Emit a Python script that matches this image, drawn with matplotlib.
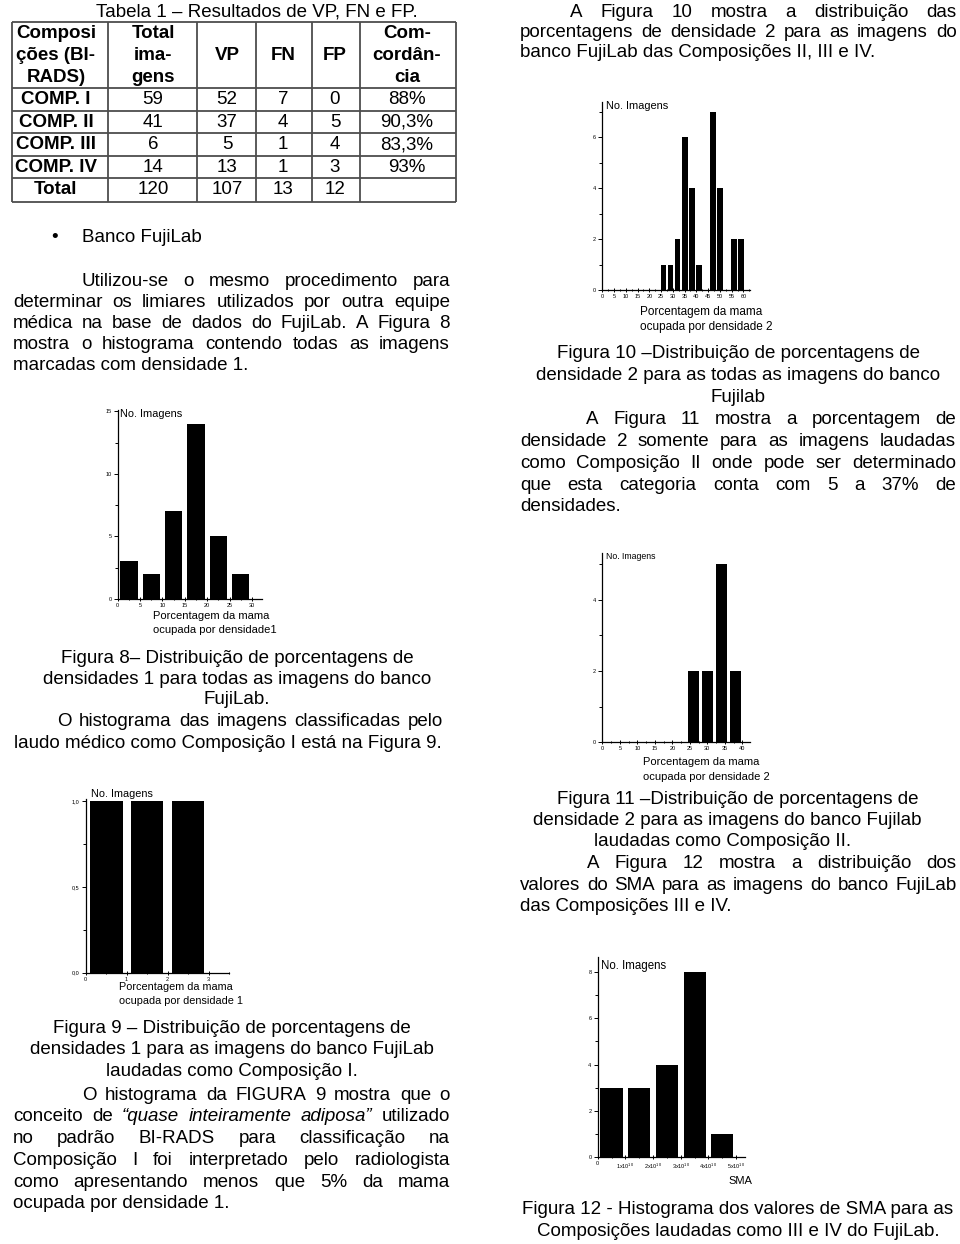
import matplotlib.pyplot as plt
from matplotlib.ticker import MultipleLocator, FixedLocator, FixedFormatter
import numpy as np

plt.rcParams['font.family'] = ['Liberation Sans', 'DejaVu Sans']
plt.rcParams['mathtext.fontset'] = 'custom'
plt.rcParams['mathtext.rm'] = 'Liberation Sans'
plt.rcParams['mathtext.default'] = 'regular'

# Tabela 1 - resultados por composicao
comp_labels = ['COMP. I', 'COMP. II', 'COMP. III', 'COMP. IV', 'Total']
total_imgs = [59, 41, 6, 14, 120]
vp = [52, 37, 5, 13, 107]
fn = [7, 4, 1, 1, 13]
fp = [0, 5, 4, 3, 12]
concordancia = ['88%', '90,3%', '83,3%', '93%', '']
header = [['Composi', 'ções (BI-', 'RADS)'], ['Total', 'ima-', 'gens'],
          ['', 'VP', ''], ['', 'FN', ''], ['', 'FP', ''],
          ['Com-', 'cordân-', 'cia']]

# Figura 8 - densidade 1, todas as imagens
fig8_edges = [0, 5, 10, 15, 20, 25, 30]
fig8_counts = [3, 2, 7, 14, 5, 2]

# Figura 9 - densidade 1, Composicao I
fig9_edges = [0, 1, 2, 3]
fig9_counts = [1, 1, 1]
fig9_yticks = [0, 0.5, 1.0]
fig9_ylabels = ['0,0', '0,5', '1,0']

# Figura 10 - densidade 2, Composicoes II, III e IV
fig10_edges = [24.5, 27.5, 30.5, 33.5, 36.5, 39.5, 42.5, 45.5, 48.5, 51.5, 54.5, 57.5, 60.5]
fig10_counts = [1, 1, 2, 6, 4, 1, 0, 7, 4, 0, 2, 2]

# Figura 11 - densidade 2, Composicao II
fig11_edges = [24, 28, 32, 36, 40]
fig11_counts = [2, 2, 5, 2]

# Figura 12 - SMA (em unidades de 1x10^10)
fig12_edges = [0, 1, 2, 3, 4, 5]
fig12_counts = [3, 3, 4, 8, 1]
sma_ticks = [0, 1, 2, 3, 4, 5]
sma_labels = ['0', '1x10$^{10}$', '2x10$^{10}$', '3x10$^{10}$', '4x10$^{10}$', '5x10$^{10}$']

W, H = 960, 1244
BODY = 13.5

fig = plt.figure(figsize=(W / 100, H / 100), dpi=100)
page = fig.add_axes([0, 0, 1, 1])
page.set_xlim(0, W)
page.set_ylim(H, 0)
page.axis('off')
renderer = fig.canvas.get_renderer()


def put(x, y, s, ha='left', size=BODY, **kw):
    return page.text(x, y, s, ha=ha, va='center', fontsize=size, **kw)


def justify(words, x0, x1, y, italic=()):
    """Spread the words of one line between x0 and x1."""
    texts = [put(0, y, w, style='italic' if i in italic else 'normal')
             for i, w in enumerate(words)]
    widths = [t.get_window_extent(renderer).width for t in texts]
    gap = (x1 - x0 - sum(widths)) / max(len(words) - 1, 1)
    x = x0
    for t, w in zip(texts, widths):
        t.set_x(x)
        x += w + gap


def paragraph(lines, x_first, x_left, x_right, y0, dy):
    """Justified paragraph with first-line indent, last line left aligned."""
    for i, line in enumerate(lines):
        italic = ()
        if isinstance(line, tuple):
            line, italic = line
        x0 = x_first if i == 0 else x_left
        y = y0 + i * dy
        if i < len(lines) - 1:
            justify(line.split(), x0, x_right, y, italic)
        else:
            put(x0, y, line)


def hist_axes(box, edges, counts, frac, xmax, ymax, xmaj, xmin, ymaj, ymin):
    """Histogram axes placed by its pixel box (left, top, right, bottom)."""
    l, t, r, b = box
    ax = fig.add_axes([l / W, 1 - b / H, (r - l) / W, (b - t) / H])
    edges = np.asarray(edges, dtype=float)
    centers = (edges[:-1] + edges[1:]) / 2
    binw = edges[1] - edges[0]
    ax.bar(centers, counts, width=frac * binw, color='black', linewidth=0)
    ax.set_xlim(0, xmax)
    ax.set_ylim(0, ymax)
    for s in ('top', 'right'):
        ax.spines[s].set_visible(False)
    for s in ('left', 'bottom'):
        ax.spines[s].set_linewidth(0.9)
    ax.xaxis.set_major_locator(MultipleLocator(xmaj))
    ax.xaxis.set_minor_locator(MultipleLocator(xmin))
    ax.yaxis.set_major_locator(MultipleLocator(ymaj))
    ax.yaxis.set_minor_locator(MultipleLocator(ymin))
    ax.tick_params(axis='x', which='both', direction='inout', labelsize=4, pad=1.5)
    ax.tick_params(axis='y', which='both', direction='out', labelsize=4, pad=1.5)
    ax.tick_params(which='major', length=3, width=0.7)
    ax.tick_params(which='minor', length=2, width=0.7)
    ax.patch.set_alpha(0)
    return ax


# ---------------- Tabela 1 ----------------
put(257, 12, 'Tabela 1 – Resultados de VP, FN e FP.', ha='center')
col_x = [11.7, 108.3, 196.7, 255.7, 311.7, 360, 455.7]
row_y = [21.7, 88.3, 111, 133.3, 155.7, 178.3, 201.7]
page.hlines(row_y, col_x[0], col_x[-1], color='#4d4d4d', lw=1.3)
page.vlines(col_x, row_y[0], row_y[-1], color='#4d4d4d', lw=1.3)
text_x = [56, 153, 227, 283, 335, 407]
for cx, lines in zip(text_x, header):
    for hy, s in zip([33, 56, 78], lines):
        put(cx, hy, s, ha='center', weight='bold')
for i in range(len(comp_labels)):
    ry = (row_y[i + 1] + row_y[i + 2]) / 2
    cells = [comp_labels[i], total_imgs[i], vp[i], fn[i], fp[i], concordancia[i]]
    for j, (cx, val) in enumerate(zip(text_x, cells)):
        put(cx, ry, str(val), ha='center', weight='bold' if j == 0 else 'normal')

# ---------------- coluna esquerda ----------------
put(51.7, 238, '•')
put(81.7, 238, 'Banco FujiLab')
paragraph(['Utilizou-se o mesmo procedimento para',
           'determinar os limiares utilizados por outra equipe',
           'médica na base de dados do FujiLab. A Figura 8',
           'mostra o histograma contendo todas as imagens',
           'marcadas com densidade 1.'], 81.7, 13, 450, 281.7, 21)

hist_axes((117.7, 410, 261.7, 599), fig8_edges, fig8_counts, 0.78,
          32.2, 15.1, 5, 2.5, 5, 2.5)
put(120, 414, 'No. Imagens', size=7.9)
put(153.3, 615.7, 'Porcentagem da mama', size=8)
put(153.3, 630, 'ocupada por densidade1', size=8)

for y, s in zip([658.3, 679.3, 700],
                ['Figura 8– Distribuição de porcentagens de',
                 'densidades 1 para todas as imagens do banco',
                 'FujiLab.']):
    put(237, y, s, ha='center')
paragraph(['O histograma das imagens classificadas pelo',
           'laudo médico como Composição I está na Figura 9.'],
          57, 14, 443, 721.7, 21.6)

ax9 = hist_axes((85.7, 799.3, 229, 972.7), fig9_edges, fig9_counts, 0.8,
                3.5, 1.01, 1, 0.5, 0.5, 0.25)
ax9.yaxis.set_major_locator(FixedLocator(fig9_yticks))
ax9.yaxis.set_major_formatter(FixedFormatter(fig9_ylabels))
put(90.7, 794.3, 'No. Imagens', size=7.8)
put(119.3, 986.7, 'Porcentagem da mama', size=7.8)
put(119.3, 1000.7, 'ocupada por densidade 1', size=7.8)

for y, s in zip([1028.3, 1050, 1071.7],
                ['Figura 9 – Distribuição de porcentagens de',
                 'densidades 1 para as imagens do banco FujiLab',
                 'laudadas como Composição I.']):
    put(232, y, s, ha='center')
paragraph(['O histograma da FIGURA 9 mostra que o',
           ('conceito de “quase inteiramente adiposa”  utilizado', (2, 3, 4)),
           'no padrão BI-RADS para classificação na',
           'Composição I foi interpretado pelo radiologista',
           'como apresentando menos que 5% da mama',
           'ocupada por densidade 1.'], 81.7, 13, 450, 1095, 21.8)

# ---------------- coluna direita ----------------
paragraph(['A Figura 10 mostra a distribuição das',
           'porcentagens de densidade 2 para as imagens do',
           'banco FujiLab das Composições II, III e IV.'],
          570, 520, 956.7, 12.3, 20)

hist_axes((602.3, 101.7, 750, 290), fig10_edges, fig10_counts, 0.83,
          62.8, 7.4, 5, 2.5, 2, 1)
put(605.7, 105.7, 'No. Imagens', size=7.9)
put(640, 311.7, 'Porcentagem da mama', size=8.5)
put(640, 326.7, 'ocupada por densidade 2', size=8.5)

for y, s in zip([353.3, 375, 397],
                ['Figura 10 –Distribuição de porcentagens de',
                 'densidade 2 para as todas as imagens do banco',
                 'Fujilab']):
    put(738.3, y, s, ha='center')
paragraph(['A Figura 11 mostra a porcentagem de',
           'densidade 2 somente para as imagens laudadas',
           'como Composição II onde pode ser determinado',
           'que esta categoria conta com 5 a 37% de',
           'densidades.'], 586, 520, 956, 420, 21.7)

hist_axes((602.3, 553.3, 750, 742.3), fig11_edges, fig11_counts, 0.8,
          42.2, 5.3, 5, 2.5, 2, 1)
put(605.7, 556.7, 'No. Imagens', size=6.3)
put(642.7, 761.7, 'Porcentagem da mama', size=8)
put(642.7, 777.3, 'ocupada por densidade 2', size=8)

for x, y, s in zip([738, 727, 723], [800, 820.7, 841.7],
                   ['Figura 11 –Distribuição de porcentagens de',
                    'densidade 2 para as imagens do banco Fujilab',
                    'laudadas como Composição II.']):
    put(x, y, s, ha='center')
paragraph(['A Figura 12 mostra a distribuição dos',
           'valores do SMA para as imagens do banco FujiLab',
           'das Composições III e IV.'], 586.7, 520, 956.7, 863.3, 21.7)

ax12 = hist_axes((597.7, 957.3, 745, 1157.3), fig12_edges, fig12_counts, 0.8,
                 5.32, 8.63, 1, 0.5, 2, 1)
ax12.xaxis.set_major_locator(FixedLocator(sma_ticks))
ax12.xaxis.set_major_formatter(FixedFormatter(sma_labels))
put(601, 966, 'No. Imagens', size=8.3)
put(740.5, 1181, 'SMA', ha='center', size=8)

put(738, 1209, 'Figura 12 - Histograma dos valores de SMA para as', ha='center')
put(738, 1231, 'Composições laudadas como III e IV do FujiLab.', ha='center')

plt.savefig('out.png', dpi=100)
